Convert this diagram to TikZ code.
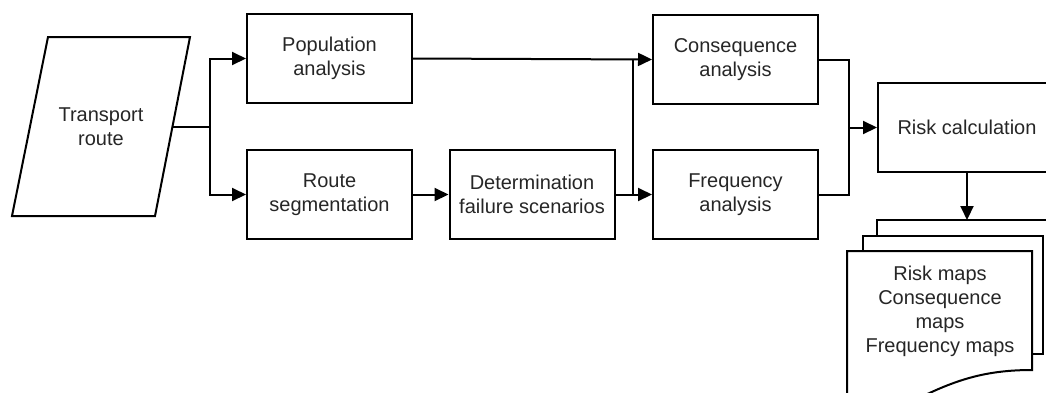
\documentclass[tikz,border=0pt]{standalone}
\usepackage{fontspec}
\setmainfont{Liberation Sans}
\usetikzlibrary{arrows.meta,calc}
\begin{document}
\begin{tikzpicture}[x=1pt,y=-1pt,
  line width=2pt,
  txt/.style={align=center, text=black!85, font=\fontsize{20}{24}\selectfont},
  box/.style={txt, draw=black, line width=2pt, minimum width=165pt, minimum height=89pt, inner sep=2pt},
  arr/.style={-{Triangle[length=14pt,width=13pt]}},
  ln/.style={line width=2pt},
]
\useasboundingbox (0,0) rectangle (1046,392);
\clip (0,0) rectangle (1046,392);

% input parallelogram
\draw[ln] (48,37) -- (190,37) -- (155,216) -- (12,216) -- cycle;
\node[txt] (tr) at (101,126.5) {Transport\\route};
\coordinate (tre) at (172.5,126.5);

% process boxes
\node[box] (pop)  at (329.5,58.5)  {Population\\analysis};
\node[box] (seg)  at (329.5,194.5) {Route\\segmentation};
\node[box] (det)  at (532,194.5)   {Determination\\failure scenarios};
\node[box] (cons) at (735.5,59.5)  {Consequence\\analysis};
\node[box] (freq) at (735.5,194.5) {Frequency\\analysis};
\node[box, minimum width=178pt] (risk) at (967,127.5) {Risk calculation};

% document stack
\draw[ln] (877,236) -- (877,220) -- (1070,220) -- (1070,340);
\draw[ln] (863,251) -- (863,236) -- (1043,236) -- (1043,354) -- (1032,354);
\draw[ln, fill=white] (847,251) -- (1032,251) -- (1032,370)
  .. controls (985,370) and (955,380) .. (915,400) -- (847,410) -- cycle;
\node[txt] (doc) at (940,311.5) {Risk maps\\Consequence\\maps\\Frequency maps};
\coordinate (doctop) at (967,220);

% connectors
\draw[ln] (tre) -- (210,126.5) coordinate (s1);
\draw[ln, arr] (s1) |- (pop.west);
\draw[ln, arr] (s1) |- (seg.west);
\draw[ln, arr] (seg.east) -- (det.west);
\draw[ln, arr] (det.east) -- (freq.west);
\draw[ln, arr] (pop.east) -- (cons.west);
\draw[ln] ($(cons.west)+(-19,0)$) -- ($(freq.west)+(-19,0)$);
\draw[ln] (cons.east) -| (849,127.5) coordinate (s2);
\draw[ln] (freq.east) -| (s2);
\draw[ln, arr] (s2) -- (risk.west);
\draw[ln, arr] (risk.south) -- (doctop);
\end{tikzpicture}
\end{document}
